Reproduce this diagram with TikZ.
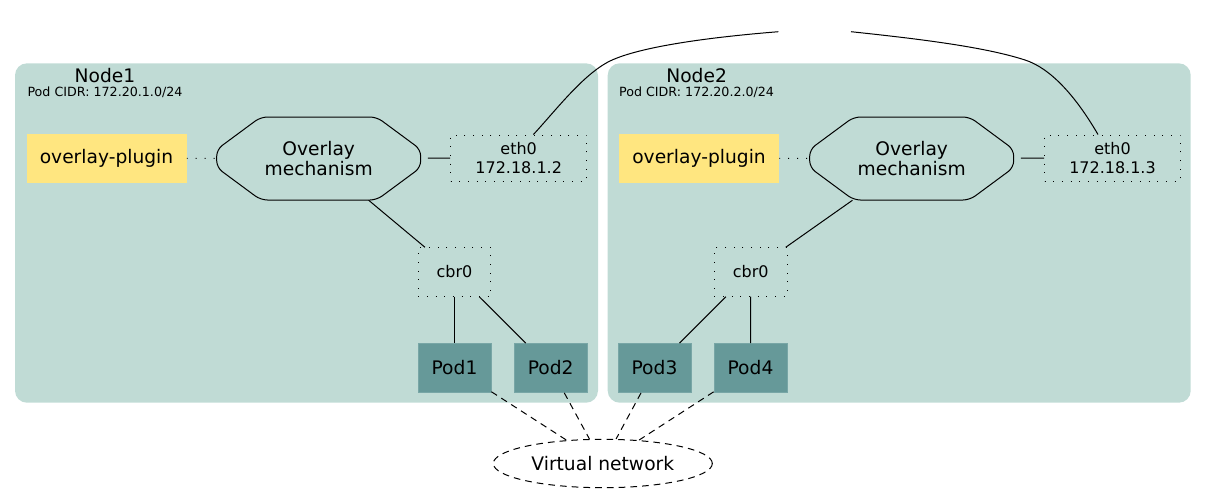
\documentclass[tikz,border=0pt]{standalone}
\usepackage{fontspec}
\setmainfont{DejaVu Sans}
\usetikzlibrary{calc,shapes.geometric}
\definecolor{clusterbg}{HTML}{C0DBD5}
\definecolor{pluginbg}{HTML}{FFE680}
\definecolor{podbg}{HTML}{669999}
\definecolor{podedge}{HTML}{78A6A6}
\tikzset{
  cluster/.style={fill=clusterbg, rounded corners=9pt},
  titletext/.style={anchor=base, inner sep=0pt, font=\fontsize{14}{16.8}\selectfont},
  cidrtext/.style={anchor=base, inner sep=0pt, font=\fontsize{9.5}{11}\selectfont},
  plugbox/.style={fill=pluginbg, minimum width=120pt, minimum height=36.75pt, inner sep=0pt, font=\fontsize{14}{16.8}\selectfont},
  octtext/.style={minimum width=153pt, minimum height=62.25pt, inner sep=0pt, align=center, font=\fontsize{14}{15}\selectfont},
  octline/.style={draw, line width=0.75pt, rounded corners=5pt},
  dotbox/.style={draw, line width=0.7pt, dash pattern=on 0.7pt off 5.8pt, inner sep=0pt, align=center},
  ethbox/.style={dotbox, minimum width=102pt, minimum height=34.5pt, font=\fontsize{12}{14}\selectfont},
  cbrbox/.style={dotbox, minimum width=54.4pt, minimum height=36.4pt, font=\fontsize{12}{14}\selectfont},
  podbox/.style={fill=podbg, draw=podedge, line width=0.6pt, minimum width=54.75pt, minimum height=36.75pt, inner sep=0pt, font=\fontsize{14}{16.8}\selectfont},
  link/.style={line width=0.75pt},
  dotlink/.style={line width=0.7pt, dash pattern=on 0.7pt off 6pt},
  dashlink/.style={line width=0.75pt, dash pattern=on 5pt off 3.8pt},
  vnet/.style={ellipse, draw, dashlink, minimum width=164.25pt, minimum height=36.3pt, inner sep=0pt, font=\fontsize{14}{16.8}\selectfont},
  ghost/.style={inner sep=0pt, minimum width=54pt, minimum height=0pt}
}
\begin{document}
\begin{tikzpicture}[x=0.75pt,y=-0.75pt]
\useasboundingbox (0,0) rectangle (1205,493);
% clusters
\path[cluster] (15,63.3) rectangle (598,402.7);
\path[cluster] (607.7,63.3) rectangle (1190.7,402.7);
\node[titletext] (t1) at (105,82.7) {Node1};
\node[cidrtext] (c1) at (105,96.7) {Pod CIDR: 172.20.1.0/24};
\node[titletext] (t2) at (696.6,82.7) {Node2};
\node[cidrtext] (c2) at (696.6,96.7) {Pod CIDR: 172.20.2.0/24};
% Node1 contents
\node[plugbox] (plug1) at (106.5,158.4) {overlay-plugin};
\node[octtext] (oct1) at (318.7,158.5) {Overlay\\mechanism};
\draw[octline, shift={(oct1.center)}] (-102,-9) -- (-58,-41.5) -- (58,-41.5) -- (102,-9) -- (102,9) -- (58,41.5) -- (-58,41.5) -- (-102,9) -- cycle;
\node[ethbox] (eth1) at (518.7,158) {eth0\\172.18.1.2};
\node[cbrbox] (cbr1) at (454.5,272) {cbr0};
\node[podbox] (pod1) at (454.5,368) {Pod1};
\node[podbox] (pod2) at (550.7,368) {Pod2};
% Node2 contents
\node[plugbox] (plug2) at (699,158.4) {overlay-plugin};
\node[octtext] (oct2) at (911.7,158.5) {Overlay\\mechanism};
\draw[octline, shift={(oct2.center)}] (-102,-9) -- (-58,-41.5) -- (58,-41.5) -- (102,-9) -- (102,9) -- (58,41.5) -- (-58,41.5) -- (-102,9) -- cycle;
\node[ethbox] (eth2) at (1112.5,158) {eth0\\172.18.1.3};
\node[cbrbox] (cbr2) at (750.7,272) {cbr0};
\node[podbox] (pod3) at (654.5,368) {Pod3};
\node[podbox] (pod4) at (750.5,368) {Pod4};
% virtual network and physical link gap
\node[vnet] (vnet) at (602.8,463.5) {Virtual network};
\node[ghost] (phys) at (814.7,31.7) {};
% edges node1
\draw[dotlink] (plug1) -- (oct1);
\draw[link, shorten <=5.25pt] (oct1) -- (eth1);
\draw[link] (oct1) -- (cbr1);
\draw[link] (cbr1) -- (pod1);
\draw[link] (cbr1) -- (pod2);
% edges node2
\draw[dotlink] (plug2) -- (oct2);
\draw[link, shorten <=5.25pt] (oct2) -- (eth2);
\draw[link] (oct2) -- (cbr2);
\draw[link] (cbr2) -- (pod3);
\draw[link] (cbr2) -- (pod4);
% pods to virtual network
\draw[dashlink] (pod1) -- (vnet);
\draw[dashlink] (pod2) -- (vnet);
\draw[dashlink] (pod3) -- (vnet);
\draw[dashlink] (pod4) -- (vnet);
% physical link
\draw[link] ($(eth1.north)+(14.7,0)$) .. controls (556,110) and (582,76) .. (608,62) .. controls (635,48) and (700,38) .. (phys.west);
\draw[link] (phys.east) .. controls (920,39) and (985,47) .. (1025,60) .. controls (1050,68) and (1075,95) .. ($(eth2.north)+(-14.5,0)$);
\end{tikzpicture}
\end{document}
